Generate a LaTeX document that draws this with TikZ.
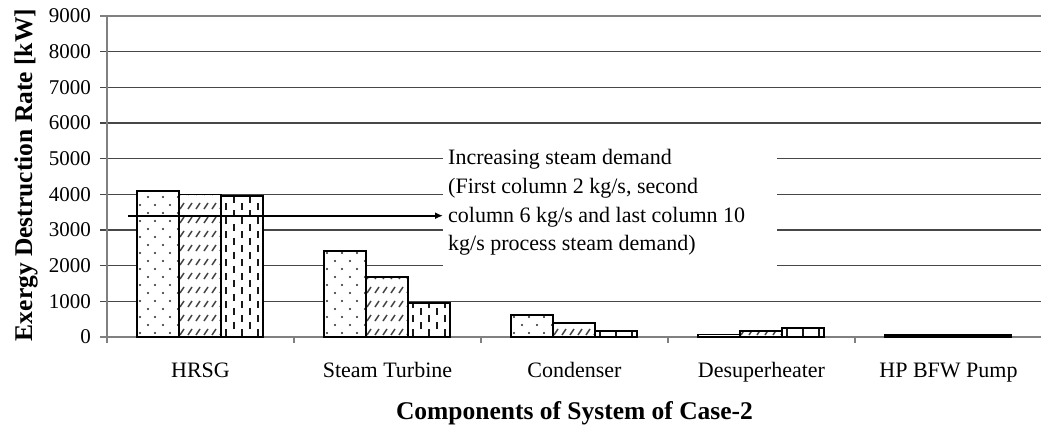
\documentclass[tikz,border=0pt]{standalone}
\usepackage{fontspec}
\setmainfont{Liberation Serif}
\usetikzlibrary{arrows.meta}

% fill patterns, drawn inside a clipped bar whose left edge is #1
\newcommand\dotpattern[1]{%
  \foreach \r in {0,...,19}{\foreach \c in {0,1,2,3}{%
    \fill[black!85] ({#1+3+\c*15+mod(\r,2)*8},{333-\r*8}) circle[radius=1.15pt];}}}
\newcommand\hatchpattern[1]{%
  \foreach \r in {0,...,11}{\foreach \c in {0,...,5}{%
    \draw[black!75,line width=1.5pt] ({#1+1+\c*8},{335-\r*14}) -- ++(4,-6);}}}
\newcommand\vdashpattern[1]{%
  \foreach \r in {0,...,11}{\foreach \c in {0,...,4}{%
    \draw[black!90,line width=1.8pt] ({#1+5+\c*8},{336-\r*14-mod(\c,2)*7}) -- ++(0,-7);}}}

% one bar: #1 pattern number, #2 left edge, #3 value in kW
\newcommand\chartbar[3]{%
  \pgfmathsetmacro\ytop{337-#3*0.035667}%
  \pgfmathsetmacro\xr{#2+42}%
  \fill[white] (#2,\ytop) rectangle (\xr,337);
  \begin{scope}
    \clip (#2,\ytop) rectangle (\xr,337);
    \ifcase#1\or\dotpattern{#2}\or\hatchpattern{#2}\or\vdashpattern{#2}\fi
  \end{scope}
  \draw[barbox] (#2,\ytop) rectangle (\xr,337);
}

\begin{document}
\begin{tikzpicture}[x=1pt,y=-1pt,
  grid/.style={draw=black!72,line width=1.1pt},
  axisline/.style={draw=black!50,line width=1.6pt},
  barbox/.style={draw=black,line width=1.7pt},
  ticklab/.style={anchor=east,font=\fontsize{21}{21}\selectfont,inner sep=0pt},
  catlab/.style={anchor=base,font=\fontsize{22}{22}\selectfont,inner sep=0pt},
  notelab/.style={anchor=base west,font=\fontsize{22}{22}\selectfont,inner sep=0pt},
  titlelab/.style={anchor=base,font=\bfseries\fontsize{25.5}{25.5}\selectfont,inner sep=0pt},
]
\useasboundingbox (0,0) rectangle (1041,430);

% horizontal grid lines and value labels
\foreach \v in {1,...,8}{
  \draw[grid] (100,{337-\v*35.667}) -- (1041,{337-\v*35.667});
}
\draw[draw=black!50,line width=2pt] (100,16) -- (1041,16);
\foreach \v in {0,...,9}{
  \pgfmathtruncatemacro\kw{\v*1000}
  \node[ticklab] (t\v) at (91,{337-\v*35.667}) {\kw};
}

% axes and category ticks
\draw[axisline] (107,16) -- (107,343);
\draw[axisline] (100,337) -- (1041,337);
\foreach \k in {1,...,4}{
  \draw[axisline] ({107+\k*187},337) -- ({107+\k*187},343);
}

% bars: three steam demand cases per component
\foreach \k/\a/\b/\c in {0/4100/4000/3960, 1/2410/1690/950, 2/620/400/160,
                          3/70/160/260, 4/60/60/60}{
  \chartbar{1}{107+\k*187+30}{\a}
  \chartbar{2}{107+\k*187+72}{\b}
  \chartbar{3}{107+\k*187+114}{\c}
}

% category labels
\foreach \k/\name in {1/HRSG, 2/Steam Turbine, 3/Condenser, 4/Desuperheater, 5/HP BFW Pump}{
  \node[catlab] (c\k) at ({107+\k*187-93.5},377) {\name};
}

% note on steam demand
\fill[white] (443,138) rectangle (777,272);
\node[notelab] (n1) at (448,165) {Increasing steam demand};
\node[notelab] (n2) at (448,194) {(First column 2 kg/s, second};
\node[notelab] (n3) at (448,222.5) {column 6 kg/s and last column 10};
\node[notelab] (n4) at (448,251) {kg/s process steam demand)};
\coordinate (astart) at (128,215.7);
\coordinate (aend) at (443,215.7);
\draw[line width=1.8pt,-{Latex[length=8pt,width=7pt]}] (astart) -- (aend);

% axis titles
\node[titlelab] (xtitle) at (574.5,419) {Components of System of Case-2};
\node[titlelab,rotate=90] (ytitle) at (32,175) {Exergy Destruction Rate [kW]};
\end{tikzpicture}
\end{document}
